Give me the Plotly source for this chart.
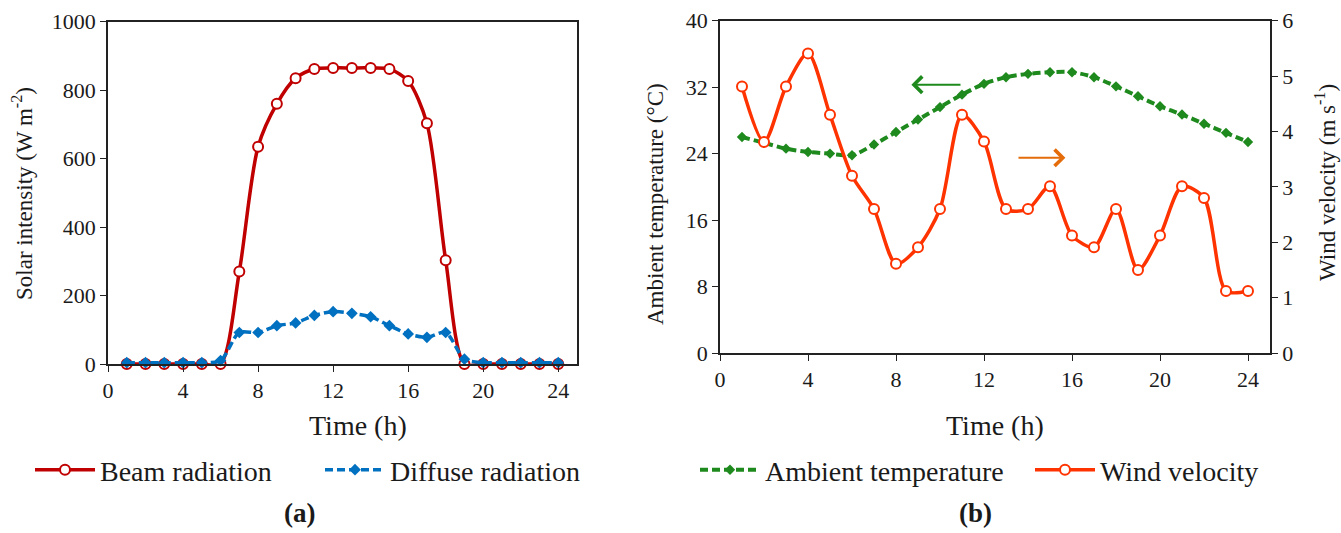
import plotly.graph_objects as go

hours = list(range(1, 25))
beam = [0, 0, 0, 0, 0, 0, 270, 635, 760, 835, 862, 865, 865, 865, 862, 827, 703, 303, 0, 0, 0, 0, 0, 0]
diffuse = [4, 4, 4, 4, 4, 10, 92, 92, 112, 120, 142, 153, 148, 138, 112, 88, 78, 92, 14, 4, 4, 4, 4, 4]
temperature = [26.0, 25.3, 24.6, 24.2, 24.0, 23.8, 25.1, 26.6, 28.1, 29.6, 31.1, 32.4, 33.2, 33.6,
               33.8, 33.8, 33.2, 32.1, 30.9, 29.7, 28.7, 27.6, 26.5, 25.4]
wind = [4.81, 3.81, 4.81, 5.41, 4.30, 3.20, 2.60, 1.61, 1.91, 2.60, 4.30, 3.82, 2.60, 2.60,
        3.01, 2.12, 1.91, 2.60, 1.50, 2.12, 3.01, 2.80, 1.12, 1.12]

x_ticks = [0, 4, 8, 12, 16, 20, 24]
solar_ticks = [0, 200, 400, 600, 800, 1000]
temp_ticks = [0, 8, 16, 24, 32, 40]
wind_ticks = [0, 1, 2, 3, 4, 5, 6]

W, H = 1341, 533
SERIF = "Liberation Serif, Times New Roman, serif"
AX = "#222222"
TXT = "#1a1a1a"

def px(x):
    return x / W

def py(y):
    return 1 - y / H

fig = go.Figure()

fig.add_trace(go.Scatter(
    x=hours, y=beam, name="Beam radiation", mode="lines+markers",
    line=dict(color="#C00000", width=3.5, shape="spline", smoothing=0.8),
    marker=dict(symbol="circle", size=10, color="white", line=dict(color="#C00000", width=2)),
    cliponaxis=False, xaxis="x", yaxis="y", legend="legend"))
fig.add_trace(go.Scatter(
    x=hours, y=diffuse, name="Diffuse radiation", mode="lines+markers",
    line=dict(color="#0070C0", width=3.5, dash="8px,4px", shape="spline", smoothing=0.8),
    marker=dict(symbol="diamond", size=9, color="#0070C0"),
    cliponaxis=False, xaxis="x", yaxis="y", legend="legend2"))

fig.add_trace(go.Scatter(
    x=hours, y=temperature, name="Ambient temperature", mode="lines+markers",
    line=dict(color="#1E8A1E", width=4, dash="8px,4px", shape="spline", smoothing=0.8),
    marker=dict(symbol="diamond", size=8, color="#1E8A1E"),
    xaxis="x2", yaxis="y2", legend="legend3"))
fig.add_trace(go.Scatter(
    x=hours, y=wind, name="Wind velocity", mode="lines+markers",
    line=dict(color="#FF3300", width=3.5, shape="spline", smoothing=0.8),
    marker=dict(symbol="circle", size=10, color="white", line=dict(color="#FF3300", width=2)),
    xaxis="x2", yaxis="y3", legend="legend4"))

tickfont = dict(family=SERIF, size=22, color=TXT)
common_x = dict(range=[0, 25], tickvals=x_ticks, ticks="outside", ticklen=6, tickwidth=1.3,
                tickcolor=AX, showline=True, linecolor=AX, linewidth=1.5, showgrid=False,
                zeroline=False, tickfont=tickfont, fixedrange=True, automargin=False)

legfont = dict(family=SERIF, size=28, color=TXT)

def leg(xpix):
    return dict(orientation="h", x=px(xpix), xanchor="left", y=py(470), yanchor="middle",
                font=legfont, itemwidth=60, bgcolor="rgba(0,0,0,0)")

def tick_overlay(over, anchor, side, rng, vals, minor=None):
    d = dict(overlaying=over, anchor=anchor, side=side, range=rng, tickvals=vals,
             ticks="inside", ticklen=6, tickwidth=1.3, tickcolor=AX, showticklabels=False,
             showline=False, showgrid=False, zeroline=False, automargin=False, fixedrange=True)
    if minor:
        d["minor"] = dict(dtick=minor, ticks="inside", ticklen=6, tickcolor=AX, showgrid=False)
    return d

fig.update_layout(
    width=W, height=H, autosize=False,
    margin=dict(l=0, r=0, t=0, b=0, pad=0, autoexpand=False),
    paper_bgcolor="white", plot_bgcolor="white",
    font=dict(family=SERIF, color=TXT),
    xaxis=dict(domain=[px(108), px(577)], anchor="y", mirror=True, **common_x),
    yaxis=dict(domain=[py(364), py(21.7)], anchor="x", range=[0, 1000], tickvals=solar_ticks,
               ticks="outside", ticklen=6, tickwidth=1.3, tickcolor=AX, mirror=True,
               showline=True, linecolor=AX, linewidth=1.5, showgrid=False, zeroline=False,
               tickfont=tickfont, automargin=False, fixedrange=True),
    yaxis4=tick_overlay("y", "x", "left", [0, 1000], solar_ticks, minor=100),
    yaxis5=tick_overlay("y", "x", "right", [0, 1000], solar_ticks, minor=100),
    xaxis2=dict(domain=[px(720), px(1270)], anchor="y2", mirror=True, **common_x),
    yaxis2=dict(domain=[py(353), py(20.7)], anchor="x2", range=[0, 40], tickvals=temp_ticks,
                ticks="outside", ticklen=6, tickwidth=1.3, tickcolor=AX,
                showline=True, linecolor=AX, linewidth=1.5, showgrid=False, zeroline=False,
                tickfont=tickfont, automargin=False, fixedrange=True),
    yaxis3=dict(overlaying="y2", anchor="x2", side="right", range=[0, 6], tickvals=wind_ticks,
                ticks="outside", ticklen=6, tickwidth=1.3, tickcolor=AX,
                showline=True, linecolor=AX, linewidth=1.5, showgrid=False, zeroline=False,
                tickfont=tickfont, automargin=False, fixedrange=True),
    yaxis6=tick_overlay("y2", "x2", "right", [0, 6], wind_ticks),
    legend=leg(30),
    legend2=leg(320),
    legend3=leg(695),
    legend4=leg(1030),
    showlegend=True,
)

annots = [
    dict(text="Solar intensity (W m<sup>-2</sup>)", x=px(22), y=py(194), textangle=-90, size=23),
    dict(text="Time (h)", x=px(358), y=py(425), textangle=0, size=28),
    dict(text="<b>(a)</b>", x=px(299), y=py(513), textangle=0, size=27),
    dict(text="Ambient temperature (°C)", x=px(655), y=py(204), textangle=-90, size=23),
    dict(text="Wind velocity (m s<sup>-1</sup>)", x=px(1325), y=py(183), textangle=-90, size=23),
    dict(text="Time (h)", x=px(995), y=py(425), textangle=0, size=28),
    dict(text="<b>(b)</b>", x=px(975), y=py(513), textangle=0, size=27),
]
for a in annots:
    fig.add_annotation(text=a["text"], x=a["x"], y=a["y"], xref="paper", yref="paper",
                       xanchor="center", yanchor="middle", showarrow=False, textangle=a["textangle"],
                       font=dict(family=SERIF, size=a["size"], color=TXT))

# direction arrows (temperature axis units)
fig.add_annotation(x=8.7, y=32.3, ax=11.0, ay=32.3, xref="x2", yref="y2", axref="x2", ayref="y2",
                   text="", showarrow=True, arrowhead=4, arrowsize=1.6, arrowwidth=2,
                   arrowcolor="#1E8A1E")
fig.add_annotation(x=15.7, y=23.5, ax=13.5, ay=23.5, xref="x2", yref="y2", axref="x2", ayref="y2",
                   text="", showarrow=True, arrowhead=4, arrowsize=1.6, arrowwidth=2,
                   arrowcolor="#E46C0A")

fig.write_html("out.html", config={"displayModeBar": False},
               post_script="document.body.style.margin='0';document.body.style.overflow='hidden';")
